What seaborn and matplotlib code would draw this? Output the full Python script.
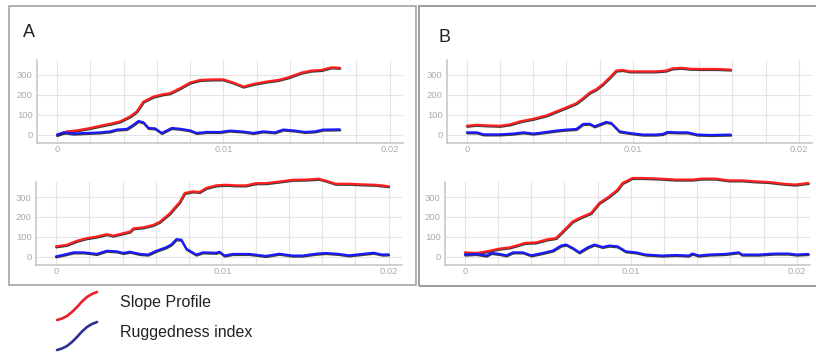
import matplotlib
matplotlib.use("Agg")
import matplotlib.pyplot as plt
import matplotlib.patheffects as pe
from matplotlib.lines import Line2D
from matplotlib.patches import Rectangle
import pandas as pd
import seaborn as sns

# --- values ---
# panel A, top
a1_slope_x = [0, 0.0006, 0.0012, 0.002, 0.0026, 0.0032, 0.0038, 0.0044, 0.0048, 0.0052,
              0.0058, 0.0064, 0.0068, 0.0074, 0.008, 0.0086, 0.0094, 0.01, 0.0106, 0.0112,
              0.0118, 0.0126, 0.0133, 0.0139, 0.0147, 0.0153, 0.0159, 0.0165, 0.017]
a1_slope = [0, 18, 23, 35, 46, 56, 68, 93, 118, 167, 192, 204, 209, 234, 262, 275, 278, 278,
            262, 242, 255, 267, 275, 288, 312, 322, 325, 338, 336]
a1_rug_x = [0, 0.0004, 0.001, 0.0018, 0.0026, 0.0032, 0.0036, 0.0042, 0.0046, 0.0049, 0.0052,
            0.0055, 0.0059, 0.0063, 0.0069, 0.0074, 0.008, 0.0084, 0.009, 0.0098, 0.0104,
            0.0112, 0.0118, 0.0124, 0.0131, 0.0136, 0.0143, 0.0149, 0.0155, 0.016, 0.017]
a1_rug = [2, 13, 7, 10, 13, 18, 27, 30, 51, 70, 63, 35, 33, 10, 35, 31, 23, 10, 15, 15, 22,
          17, 10, 18, 13, 27, 22, 15, 18, 27, 28]

# panel A, bottom
a2_slope_x = [0, 0.00066, 0.00126, 0.00185, 0.00245, 0.00305, 0.00345, 0.00405, 0.00445,
              0.00465, 0.00524, 0.00584, 0.00624, 0.00684, 0.00744, 0.00774, 0.00824, 0.00863,
              0.00903, 0.00963, 0.01023, 0.01083, 0.01143, 0.01202, 0.01262, 0.01342, 0.01422,
              0.01501, 0.01581, 0.01621, 0.01681, 0.01761, 0.0184, 0.0192, 0.02]
a2_slope = [53, 61, 81, 94, 102, 114, 107, 119, 127, 143, 148, 160, 176, 218, 275, 320, 328,
            325, 345, 358, 361, 358, 358, 369, 369, 377, 386, 387, 391, 382, 366, 366, 363,
            361, 354]
a2_rug_x = [0, 0.0005, 0.00106, 0.00166, 0.002, 0.00245, 0.00305, 0.00365, 0.00405, 0.00445,
            0.00505, 0.00554, 0.00604, 0.00664, 0.00694, 0.00724, 0.00754, 0.00784, 0.00843,
            0.00883, 0.00963, 0.00983, 0.01013, 0.01063, 0.01163, 0.01262, 0.01342, 0.01422,
            0.01482, 0.01561, 0.01621, 0.01701, 0.01761, 0.0184, 0.0191, 0.0196, 0.02]
a2_rug = [3, 12, 23, 23, 20, 15, 31, 28, 20, 26, 15, 12, 31, 49, 63, 89, 86, 41, 12, 23, 21,
          26, 7, 15, 15, 5, 16, 7, 7, 16, 20, 15, 8, 15, 21, 12, 13]

# panel B, top
b1_slope_x = [0, 0.0006, 0.0012, 0.002, 0.0026, 0.0032, 0.004, 0.0048, 0.0054, 0.006, 0.0066,
              0.007, 0.0074, 0.0078, 0.0082, 0.0086, 0.009, 0.0094, 0.0098, 0.0106, 0.0114,
              0.012, 0.0124, 0.0129, 0.0135, 0.0141, 0.0151, 0.0159]
b1_slope = [46, 51, 48, 46, 53, 68, 81, 98, 118, 138, 159, 184, 212, 229, 255, 287, 322, 325,
            318, 318, 318, 322, 333, 336, 331, 330, 330, 327]
b1_rug_x = [0, 0.0006, 0.001, 0.002, 0.0028, 0.0034, 0.004, 0.0046, 0.0054, 0.006, 0.0066,
            0.007, 0.0074, 0.0077, 0.0081, 0.0084, 0.0087, 0.0092, 0.0098, 0.0106, 0.0114,
            0.0118, 0.0121, 0.0127, 0.0133, 0.0139, 0.0147, 0.0159]
b1_rug = [13, 13, 3, 3, 7, 13, 7, 13, 22, 27, 30, 55, 56, 43, 56, 65, 60, 18, 10, 2, 2, 5, 15,
          13, 13, 2, 0, 2]

# panel B, bottom
b2_slope_x = [0, 0.0007, 0.0013, 0.0021, 0.0027, 0.0031, 0.0036, 0.0043, 0.0049, 0.0055,
              0.0059, 0.0065, 0.0069, 0.0076, 0.0081, 0.0087, 0.0092, 0.0095, 0.0101, 0.0107,
              0.0117, 0.0127, 0.0137, 0.0143, 0.0151, 0.0159, 0.0167, 0.0175, 0.0183, 0.0191,
              0.0199, 0.0207]
b2_slope = [23, 20, 28, 42, 48, 57, 70, 73, 87, 95, 128, 178, 195, 220, 270, 303, 337, 370,
            395, 395, 392, 387, 387, 392, 392, 383, 383, 378, 375, 367, 362, 370]
b2_rug_x = [0, 0.0007, 0.0013, 0.0016, 0.0021, 0.0025, 0.0029, 0.0035, 0.004, 0.0047, 0.0053,
            0.0058, 0.0061, 0.0065, 0.0069, 0.0074, 0.0078, 0.0083, 0.0087, 0.0092, 0.0097,
            0.0103, 0.0109, 0.0119, 0.0127, 0.0135, 0.0137, 0.0141, 0.0147, 0.0157, 0.0165,
            0.0167, 0.0177, 0.0187, 0.0195, 0.02, 0.0207]
b2_rug = [12, 15, 7, 20, 15, 8, 23, 23, 8, 20, 32, 57, 62, 45, 23, 48, 62, 50, 57, 53, 28, 23,
          12, 7, 10, 7, 17, 7, 12, 15, 23, 12, 12, 17, 17, 12, 15]

series_names = ["Slope Profile", "Ruggedness index"]
x_ticks = [0, 0.01, 0.02]
x_tick_labels = ["0", "0.01", "0.02"]
y_ticks = [0, 100, 200, 300]

W, H = 816, 353
line_colors = {"Slope Profile": "#ff1f1f", "Ruggedness index": "#1a1aff"}
legend_colors = ["#e8202a", "#2e3192"]


def long_frame(sx, sy, rx, ry):
    d1 = pd.DataFrame({"dist": sx, "value": sy, "series": series_names[0]})
    d2 = pd.DataFrame({"dist": rx, "value": ry, "series": series_names[1]})
    return pd.concat([d1, d2], ignore_index=True)


def px_rect(left, top, right, bottom):
    return [left / W, 1 - bottom / H, (right - left) / W, (bottom - top) / H]


def draw_panel(fig, box, df):
    ax = fig.add_axes(px_rect(*box))
    sns.lineplot(data=df, x="dist", y="value", hue="series", palette=line_colors,
                 estimator=None, linewidth=1.6, legend=False, ax=ax)
    for ln in ax.lines:
        ln.set_clip_on(False)
        ln.set_path_effects([pe.SimpleLineShadow(offset=(0.3, -0.7), shadow_color="#1a1a1a",
                                                 alpha=0.85), pe.Normal()])
    ax.set_xlim(-0.0012, 0.0208)
    ax.set_ylim(-40, 375)
    ax.set_xticks(x_ticks)
    ax.set_xticklabels(x_tick_labels)
    ax.set_xticks([i * 0.002 for i in range(11)], minor=True)
    ax.set_yticks(y_ticks)
    ax.grid(True, which="both", color="#e4e4e4", linewidth=0.8)
    ax.tick_params(axis="both", which="both", length=0, labelsize=6.8,
                   labelcolor="#ababab")
    ax.tick_params(axis="y", pad=3)
    ax.tick_params(axis="x", pad=1.5)
    ax.set_xlabel("")
    ax.set_ylabel("")
    for side in ["top", "right"]:
        ax.spines[side].set_visible(False)
    for side in ["left", "bottom"]:
        ax.spines[side].set_color("#c4c4c4")
        ax.spines[side].set_linewidth(1.1)
    ax.set_facecolor("white")
    return ax


sns.set_style("white")
plt.rcParams["font.family"] = ["Liberation Sans", "DejaVu Sans"]

fig = plt.figure(figsize=(W / 100, H / 100), dpi=100)

draw_panel(fig, (37, 60, 403, 143), long_frame(a1_slope_x, a1_slope, a1_rug_x, a1_rug))
draw_panel(fig, (36, 182, 402, 265), long_frame(a2_slope_x, a2_slope, a2_rug_x, a2_rug))
draw_panel(fig, (447, 60, 812, 143), long_frame(b1_slope_x, b1_slope, b1_rug_x, b1_rug))
draw_panel(fig, (445, 182, 810, 265), long_frame(b2_slope_x, b2_slope, b2_rug_x, b2_rug))

# panel frames
fig.add_artist(Rectangle((9 / W, 1 - 285 / H), (416 - 9) / W, (285 - 6) / H,
                         transform=fig.transFigure, fill=False, edgecolor="#9c9c9c", lw=1.1))
fig.add_artist(Rectangle((419 / W, 1 - 286 / H), (830 - 419) / W, (286 - 6) / H,
                         transform=fig.transFigure, fill=False, edgecolor="#9c9c9c", lw=1.4))

fig.text(23 / W, 1 - 37 / H, "A", fontsize=13, color="#222222", va="baseline")
fig.text(438 / W, 1 - 42 / H, "B", fontsize=13, color="#222222", va="baseline")

# legend below the panels: small S-shaped strokes
for i, (name, col) in enumerate(zip(series_names, legend_colors)):
    y0 = 320 + i * 30
    xs = [57, 62, 67, 72, 77, 82, 87, 92, 97]
    ys = [y0, y0 - 1.5, y0 - 4, y0 - 8, y0 - 13, y0 - 18.5, y0 - 23, y0 - 26, y0 - 28]
    fig.add_artist(Line2D([x / W for x in xs], [1 - y / H for y in ys],
                          transform=fig.transFigure, color=col, lw=1.9,
                          solid_capstyle="round", solid_joinstyle="round"))
    fig.text(120 / W, 1 - (303 + i * 29) / H, name, fontsize=11.5, color="#222222",
             va="center")

fig.savefig("out.png", dpi=100, facecolor="white")
